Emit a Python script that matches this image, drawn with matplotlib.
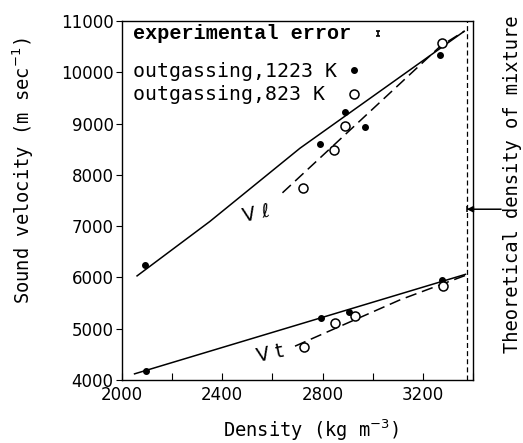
import numpy as np
import matplotlib
matplotlib.use("Agg")
import matplotlib.pyplot as plt

# longitudinal velocity V_l : outgassing 1223 K (filled) and 823 K (open)
vl_hot_x = [2090, 2790, 2890, 2970, 3270]
vl_hot_y = [6250, 8600, 9230, 8930, 10330]
vl_cold_x = [2720, 2845, 2890, 3275]
vl_cold_y = [7740, 8480, 8950, 10570]

# transverse velocity V_t
vt_hot_x = [2095, 2795, 2905, 3275]
vt_hot_y = [4175, 5200, 5320, 5950]
vt_cold_x = [2725, 2850, 2930, 3280]
vt_cold_y = [4640, 5120, 5255, 5840]

# hand-drawn curves through the points
vl_fit_x = [2060, 2350, 2710, 3365]
vl_fit_y = [6030, 7090, 8520, 10800]
vl_dash_x = [2640, 3270, 3365]
vl_dash_y = [7650, 10510, 10800]
vt_fit_x = [2050, 3370]
vt_fit_y = [4120, 6060]
vt_dash_x = [2690, 3110, 3370]
vt_dash_y = [4660, 5565, 6040]

theo_density = 3375
arrow_y = 7330

xticks = [2000, 2200, 2400, 2600, 2800, 3000, 3200, 3400]
xticklabels = ["2000", "", "2400", "", "2800", "", "3200", ""]
yticks = [4000, 5000, 6000, 7000, 8000, 9000, 10000, 11000]

fig = plt.figure(figsize=(5.23, 4.43), dpi=100)
ax = fig.add_axes([0.2333, 0.1422, 0.6711, 0.8104])

ax.plot(vl_fit_x, vl_fit_y, color="black", lw=1.1)
ax.plot(vl_dash_x, vl_dash_y, color="black", lw=1.1, dashes=(7.5, 3.8))
ax.plot(vt_fit_x, vt_fit_y, color="black", lw=1.1)
ax.plot(vt_dash_x, vt_dash_y, color="black", lw=1.1, dashes=(7.5, 3.8))

ax.plot(vl_hot_x, vl_hot_y, "o", color="black", ms=4)
ax.plot(vt_hot_x, vt_hot_y, "o", color="black", ms=4)
ax.plot(vl_cold_x, vl_cold_y, "o", mfc="white", mec="black", mew=1.1, ms=6.5)
ax.plot(vt_cold_x, vt_cold_y, "o", mfc="white", mec="black", mew=1.1, ms=6.5)

# theoretical density of mixture
ax.axvline(theo_density, color="black", lw=0.9, dashes=(4, 2.5))
ax.annotate("", xy=(theo_density, arrow_y), xytext=(3512, arrow_y),
            arrowprops=dict(arrowstyle="-|>", color="black", lw=1.1,
                            mutation_scale=9, shrinkA=0, shrinkB=0),
            annotation_clip=False)
ax.plot([theo_density], [arrow_y], "|", color="black", ms=5, mew=1.1, clip_on=False)

# legend written as text
mono = "DejaVu Sans Mono"
ax.text(2045, 10760, "experimental error", family="Liberation Mono",
        weight="bold", fontsize=14.5, va="center")
ax.errorbar([3020], [10760], yerr=[45], fmt="none", ecolor="black",
            capsize=1.5, elinewidth=1.2, capthick=1.2)
ax.text(2045, 10020, "outgassing,1223 K", family=mono, fontsize=14.3, va="center")
ax.text(2045, 9560, "outgassing,823 K", family=mono, fontsize=14.3, va="center")
ax.plot([2925], [10050], "o", color="black", ms=4)
ax.plot([2925], [9570], "o", mfc="white", mec="black", mew=1.1, ms=6.5)

ax.text(2535, 7240, "V ℓ", fontsize=14, rotation=12, ha="center", va="center")
ax.text(2590, 4520, "V t", fontsize=14, rotation=12, ha="center", va="center")

ax.set_xlim(2000, 3400)
ax.set_ylim(4000, 11000)
ax.set_xticks(xticks)
ax.set_xticklabels(xticklabels)
ax.set_yticks(yticks)
ax.tick_params(axis="x", direction="in", length=5, labelsize=12, pad=4)
ax.tick_params(axis="y", direction="out", length=4, labelsize=12, pad=2)
for s in ax.spines.values():
    s.set_linewidth(1.0)

fig.text(0.595, 0.029, "Density (kg m$^{-3}$)", family=mono, fontsize=13.5,
         ha="center", va="center")
fig.text(0.044, 0.614, "Sound velocity (m sec$^{-1}$)", family=mono, fontsize=13.5,
         rotation=90, ha="center", va="center")
fig.text(0.979, 0.585, "Theoretical density of mixture", family=mono,
         fontsize=13.5, rotation=90, ha="center", va="center")

fig.savefig("out.png", dpi=100)
